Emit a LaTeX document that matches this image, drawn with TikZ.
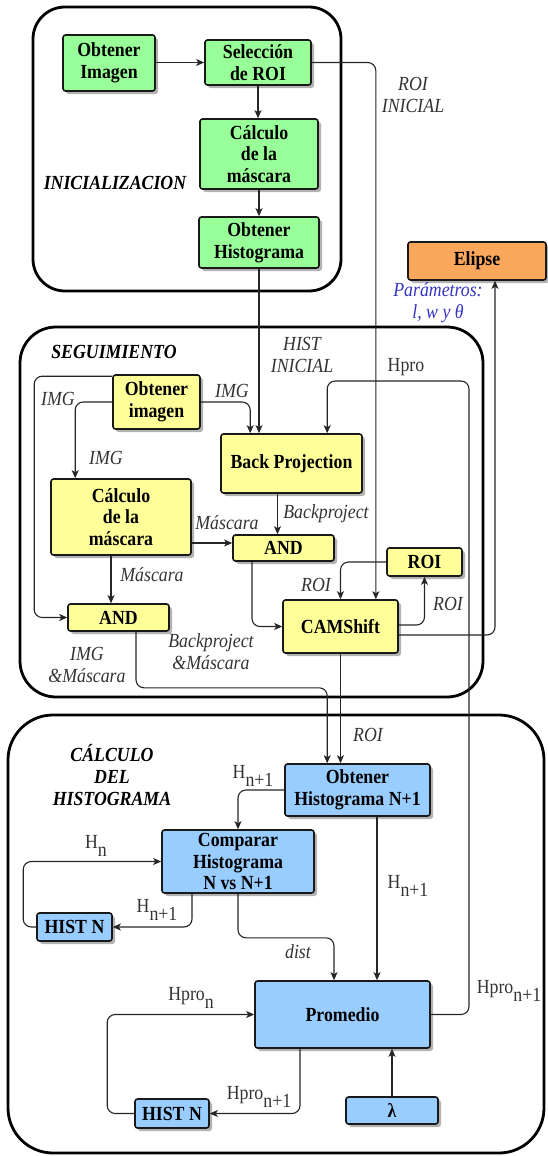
\documentclass[tikz,border=0pt]{standalone}
\usepackage{fontspec}
\setmainfont{Liberation Serif}[FakeStretch=0.89]
\usetikzlibrary{shadows,arrows.meta,calc}
\newcommand{\sbs}[1]{\raisebox{-0.4em}{#1}}
\definecolor{gfill}{HTML}{99FF99}
\definecolor{yfill}{HTML}{FFFF99}
\definecolor{bfill}{HTML}{99CCFF}
\definecolor{ofill}{HTML}{FBA75C}
\definecolor{partxt}{HTML}{3434C0}
\begin{document}
\begin{tikzpicture}[x=1pt,y=-1pt,
  box/.style={draw=black!90,line width=1.6pt,rounded corners=2.5pt,align=center,inner sep=0pt,
    font=\bfseries\fontsize{20}{21.7}\selectfont,
    drop shadow={shadow xshift=3pt,shadow yshift=-3pt,fill=black,opacity=0.3}},
  gbox/.style={box,fill=gfill},
  ybox/.style={box,fill=yfill},
  bbox/.style={box,fill=bfill},
  obox/.style={box,fill=ofill},
  container/.style={draw=black,line width=2.8pt},
  conn/.style={draw=black!85,line width=1.1pt,-{Stealth[length=8pt,width=7pt,inset=2pt]}},
  rc/.style={rounded corners=8pt},
  lbl/.style={font=\itshape\fontsize{20}{22}\selectfont,text=black!80,align=center,inner sep=0pt},
  ulbl/.style={font=\fontsize{20}{22}\selectfont,text=black!80,inner sep=0pt},
  ttl/.style={font=\bfseries\itshape\fontsize{20}{22}\selectfont,align=center,inner sep=0pt}]
\useasboundingbox (0,0) rectangle (547,1156);

% containers
\draw[container,rounded corners=32pt] (33,7) rectangle (341,291);
\draw[container,rounded corners=36pt] (20,327) rectangle (483,697);
\draw[container,rounded corners=45pt] (8,715) rectangle (544,1153);

% top nodes
\node[gbox,minimum width=92pt,minimum height=56pt] (oi) at (109,63) {Obtener\\Imagen};
\node[gbox,minimum width=106pt,minimum height=45pt] (sel) at (258,62.5) {Selección\\de ROI};
\node[gbox,minimum width=118pt,minimum height=70pt] (calc1) at (259,154) {Cálculo\\de la\\máscara};
\node[gbox,minimum width=120pt,minimum height=51pt] (oh) at (259,242.5) {Obtener\\Histograma};
\node[obox,minimum width=138pt,minimum height=38pt] (elipse) at (477,261) {Elipse};

% middle nodes
\node[ybox,minimum width=87pt,minimum height=54pt] (oim) at (156.5,402) {Obtener\\imagen};
\node[ybox,minimum width=141pt,minimum height=59pt] (bp) at (291.5,463.5) {Back Projection};
\node[ybox,minimum width=140pt,minimum height=76pt] (calc2) at (121,517) {Cálculo\\de la\\máscara};
\node[ybox,minimum width=101pt,minimum height=26pt] (and1) at (283.5,548) {AND};
\node[ybox,minimum width=75pt,minimum height=28pt] (roi) at (424.5,562) {ROI};
\node[ybox,minimum width=101pt,minimum height=27pt] (and2) at (118.5,617.5) {AND};
\node[ybox,minimum width=115pt,minimum height=53pt] (cam) at (340.5,626.5) {CAMShift};

% bottom nodes
\node[bbox,minimum width=145pt,minimum height=52pt] (onh) at (357.5,790) {Obtener\\Histograma N+1};
\node[bbox,minimum width=152pt,minimum height=63pt] (comp) at (238,861.5) {Comparar\\Histograma\\N vs N+1};
\node[bbox,minimum width=75pt,minimum height=28pt] (hn1) at (74.5,927) {HIST N};
\node[bbox,minimum width=175pt,minimum height=67pt] (prom) at (342.5,1014.5) {Promedio};
\node[bbox,minimum width=74pt,minimum height=29pt] (hn2) at (172,1113.5) {HIST N};
\node[bbox,minimum width=92pt,minimum height=27pt] (lam) at (392,1110.5) {λ};

\coordinate (hpt) at (469,381);

% connectors top
\draw[conn] (oi.east |- sel.west) -- (sel.west);
\draw[conn] (sel.south) -- (sel.south |- calc1.north);
\draw[conn] (calc1.south) -- (oh.north);
\draw[conn,rc] (sel.east) -| ($(cam.north east)+(-23,0)$);
\draw[conn] (oh.south) -- (oh.south |- bp.north);

% connectors middle
\draw[conn,rc] (oim.east) -| ($(bp.north west)+(30,0)$);
\draw[conn,rc] (prom.east) -| (hpt) -| ($(bp.north west)+(107,0)$);
\draw[conn,rc] ([yshift=-2pt]oim.north west) -- ++(-78,0) |- (and2.west);
\draw[conn,rc] (oim.west) -| ($(calc2.north west)+(25,0)$);
\draw[conn] ([yshift=5pt]and1.west -| calc2.east) -- ([yshift=5pt]and1.west);
\draw[conn] ([xshift=-14pt]bp.south) -- ([xshift=-14pt]bp.south |- and1.north);
\draw[conn] ([xshift=-10pt]calc2.south) -- ([xshift=-10pt]calc2.south |- and2.north);
\draw[conn,rc] ([xshift=-31.5pt]and1.south) |- (cam.west);
\draw[conn,rc] (roi.west) -| (cam.north);
\draw[conn,rc] ([yshift=1.5pt]cam.east) -| (roi.south);
\draw[conn,rc] ([yshift=-8.5pt]cam.east) -| ([xshift=18pt]elipse.south);
\draw[conn] (cam.south) -- (cam.south |- onh.north);
\draw[conn,rc] ([xshift=17.5pt]and2.south) -- ++(0,56) -| ($(onh.north west)+(43,0)$);

% connectors bottom
\draw[conn,rc] (onh.west) -| (comp.north);
\draw[conn,rc] ([xshift=-46pt]comp.south) |- (hn1.east);
\draw[conn,rc] (hn1.west) -- ++(-13,0) |- (comp.west);
\draw[conn,rc] (comp.south) -- ++(0,44) -| ([xshift=-8.5pt]prom.north);
\draw[conn] ([xshift=19.5pt]onh.south) -- ([xshift=19.5pt]onh.south |- prom.north);
\draw[conn,rc] ([xshift=-42.5pt]prom.south) |- (hn2.east);
\draw[conn,rc] (hn2.west) -- ++(-27,0) |- (prom.west);
\draw[conn] (lam.north) -- (lam.north |- prom.south);

% titles
\node[ttl] (t1) at (115,183) {INICIALIZACION};
\node[ttl] (t2) at (114,352) {SEGUIMIENTO};
\node[ttl] (t3) at (112,775) {CÁLCULO\\DEL\\HISTOGRAMA};

% labels
\node[lbl] (l1) at (413,95) {ROI\\INICIAL};
\node[lbl,text=partxt] (l2) at (438,303) {Parámetros:\\l, w y θ};
\node[lbl] (l3) at (302,355) {HIST\\INICIAL};
\node[lbl] (l4) at (232,391) {IMG};
\node[ulbl] (l5) at (406,367) {Hpro};
\node[lbl] (l6) at (58,399) {IMG};
\node[lbl] (l7) at (106,458) {IMG};
\node[lbl] (l8) at (227,523) {Máscara};
\node[lbl] (l9) at (326,514) {Backproject};
\node[lbl] (l10) at (152,575) {Máscara};
\node[lbl] (l11) at (316,585) {ROI};
\node[lbl] (l12) at (448,604) {ROI};
\node[lbl] (l13) at (211,652) {Backproject\\\&Máscara};
\node[lbl] (l14) at (87,665) {IMG\\\&Máscara};
\node[lbl] (l15) at (368,735) {ROI};
\node[ulbl] (l16) at (253,776) {H\sbs{n+1}};
\node[ulbl] (l17) at (96,846) {H\sbs{n}};
\node[ulbl] (l18) at (157,910) {H\sbs{n+1}};
\node[ulbl] (l19) at (408,886) {H\sbs{n+1}};
\node[lbl] (l20) at (298,952) {dist};
\node[ulbl] (l21) at (509,991) {Hpro\sbs{n+1}};
\node[ulbl] (l22) at (191,998) {Hpro\sbs{n}};
\node[ulbl] (l23) at (259,1097) {Hpro\sbs{n+1}};
\end{tikzpicture}
\end{document}
